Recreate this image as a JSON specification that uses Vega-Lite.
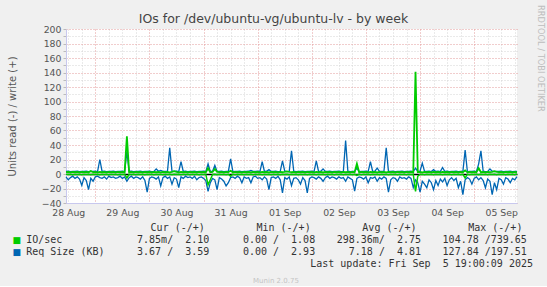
{
  "$schema": "https://vega.github.io/schema/vega-lite/v6.json",
  "background": "#f0f0f0",
  "padding": {"left": 7, "top": 5, "right": 2, "bottom": 2},
  "spacing": 4,
  "config": {"view": {"stroke": null}, "font": "DejaVu Sans"},
  "title": {"text": "Munin 2.0.75", "orient": "bottom", "anchor": "middle", "font": "DejaVu Sans", "fontSize": 7, "fontWeight": "normal", "color": "#c4c4c4", "offset": 8},
  "datasets": {
    "ts": [
      {"t":"2025-08-28T11:00","gr":-0.4,"gw":2.5,"br":-4,"bw":3.5},
      {"t":"2025-08-28T12:00","gr":-0.7,"gw":2.8,"br":-8,"bw":3.8},
      {"t":"2025-08-28T13:00","gr":-0.3,"gw":2.3,"br":-5,"bw":3.3},
      {"t":"2025-08-28T14:00","gr":-0.9,"gw":2.9,"br":-3,"bw":3.6},
      {"t":"2025-08-28T15:00","gr":-0.4,"gw":2.5,"br":-6,"bw":3.5},
      {"t":"2025-08-28T16:00","gr":-0.7,"gw":2.8,"br":-4,"bw":3.8},
      {"t":"2025-08-28T17:00","gr":-0.3,"gw":2.3,"br":-7,"bw":3.3},
      {"t":"2025-08-28T18:00","gr":-0.9,"gw":2.9,"br":-15.6,"bw":3.6},
      {"t":"2025-08-28T19:00","gr":-0.4,"gw":2.5,"br":-5,"bw":3.5},
      {"t":"2025-08-28T20:00","gr":-0.7,"gw":2.8,"br":-9,"bw":3.8},
      {"t":"2025-08-28T21:00","gr":-0.3,"gw":2.3,"br":-21.6,"bw":3.3},
      {"t":"2025-08-28T22:00","gr":-0.9,"gw":4,"br":-6,"bw":3.6},
      {"t":"2025-08-28T23:00","gr":-0.4,"gw":2.5,"br":-10,"bw":3.5},
      {"t":"2025-08-29T00:00","gr":-0.7,"gw":2.8,"br":-4,"bw":3.8},
      {"t":"2025-08-29T01:00","gr":-0.3,"gw":2.3,"br":-3,"bw":3.3},
      {"t":"2025-08-29T02:00","gr":-0.9,"gw":2.9,"br":-5,"bw":20},
      {"t":"2025-08-29T03:00","gr":-0.4,"gw":2.5,"br":-6,"bw":3.5},
      {"t":"2025-08-29T04:00","gr":-0.7,"gw":2.8,"br":-4,"bw":3.8},
      {"t":"2025-08-29T05:00","gr":-0.3,"gw":2.3,"br":-7,"bw":3.3},
      {"t":"2025-08-29T06:00","gr":-0.9,"gw":2.9,"br":-3,"bw":3.6},
      {"t":"2025-08-29T07:00","gr":-0.4,"gw":2.5,"br":-5,"bw":3.5},
      {"t":"2025-08-29T08:00","gr":-0.7,"gw":2.8,"br":-4,"bw":3.8},
      {"t":"2025-08-29T09:00","gr":-0.3,"gw":2.3,"br":-6,"bw":3.3},
      {"t":"2025-08-29T10:00","gr":-0.9,"gw":2.9,"br":-5,"bw":3.6},
      {"t":"2025-08-29T11:00","gr":-0.4,"gw":2.5,"br":-3,"bw":3.5},
      {"t":"2025-08-29T12:00","gr":-0.7,"gw":2.8,"br":-6,"bw":3.8},
      {"t":"2025-08-29T13:00","gr":-0.3,"gw":2.3,"br":-4,"bw":3.3},
      {"t":"2025-08-29T14:00","gr":-5.5,"gw":52,"br":-10,"bw":31},
      {"t":"2025-08-29T15:00","gr":-0.4,"gw":2.5,"br":-5,"bw":3.5},
      {"t":"2025-08-29T16:00","gr":-0.7,"gw":2.8,"br":-3,"bw":3.8},
      {"t":"2025-08-29T17:00","gr":-0.3,"gw":2.3,"br":-6,"bw":3.3},
      {"t":"2025-08-29T18:00","gr":-0.9,"gw":2.9,"br":-4,"bw":3.6},
      {"t":"2025-08-29T19:00","gr":-0.4,"gw":2.5,"br":-5,"bw":3.5},
      {"t":"2025-08-29T20:00","gr":-0.7,"gw":2.8,"br":-7,"bw":3.8},
      {"t":"2025-08-29T21:00","gr":-0.3,"gw":2.3,"br":-4,"bw":3.3},
      {"t":"2025-08-29T22:00","gr":-0.9,"gw":2.9,"br":-9,"bw":3.6},
      {"t":"2025-08-29T23:00","gr":-0.4,"gw":2.5,"br":-25,"bw":3.5},
      {"t":"2025-08-30T00:00","gr":-0.7,"gw":2.8,"br":-6,"bw":3.8},
      {"t":"2025-08-30T01:00","gr":-0.3,"gw":2.3,"br":-4,"bw":3.3},
      {"t":"2025-08-30T02:00","gr":-0.9,"gw":2.9,"br":-5,"bw":3.6},
      {"t":"2025-08-30T03:00","gr":-0.4,"gw":2.5,"br":-7,"bw":7},
      {"t":"2025-08-30T04:00","gr":-0.7,"gw":2.8,"br":-4,"bw":3.8},
      {"t":"2025-08-30T05:00","gr":-0.3,"gw":2.3,"br":-16.5,"bw":5},
      {"t":"2025-08-30T06:00","gr":-0.9,"gw":2.9,"br":-5,"bw":3.6},
      {"t":"2025-08-30T07:00","gr":-0.4,"gw":2.5,"br":-3,"bw":3.5},
      {"t":"2025-08-30T08:00","gr":-0.7,"gw":2.8,"br":-6,"bw":3.8},
      {"t":"2025-08-30T09:00","gr":-0.3,"gw":2.3,"br":-4,"bw":36},
      {"t":"2025-08-30T10:00","gr":-0.9,"gw":2.9,"br":-14,"bw":3.6},
      {"t":"2025-08-30T11:00","gr":-0.4,"gw":3.8,"br":-5,"bw":3.5},
      {"t":"2025-08-30T12:00","gr":-0.7,"gw":2.8,"br":-7,"bw":3.8},
      {"t":"2025-08-30T13:00","gr":-0.3,"gw":2.3,"br":-18.7,"bw":3.3},
      {"t":"2025-08-30T14:00","gr":-0.9,"gw":2.9,"br":-4,"bw":17},
      {"t":"2025-08-30T15:00","gr":-0.4,"gw":2.5,"br":-6,"bw":3.5},
      {"t":"2025-08-30T16:00","gr":-0.7,"gw":2.8,"br":-3,"bw":3.8},
      {"t":"2025-08-30T17:00","gr":-0.3,"gw":2.3,"br":-5,"bw":3.3},
      {"t":"2025-08-30T18:00","gr":-0.9,"gw":2.9,"br":-4,"bw":3.6},
      {"t":"2025-08-30T19:00","gr":-0.4,"gw":2.5,"br":-6,"bw":3.5},
      {"t":"2025-08-30T20:00","gr":-0.7,"gw":2.8,"br":-3,"bw":3.8},
      {"t":"2025-08-30T21:00","gr":-0.3,"gw":2.3,"br":-8,"bw":3.3},
      {"t":"2025-08-30T22:00","gr":-0.9,"gw":2.9,"br":-5,"bw":3.6},
      {"t":"2025-08-30T23:00","gr":-0.4,"gw":2.5,"br":-4,"bw":3.5},
      {"t":"2025-08-31T00:00","gr":-0.7,"gw":2.8,"br":-6,"bw":3.8},
      {"t":"2025-08-31T01:00","gr":-0.3,"gw":2.3,"br":-9,"bw":3.3},
      {"t":"2025-08-31T02:00","gr":-15,"gw":8,"br":-24,"bw":14},
      {"t":"2025-08-31T03:00","gr":-8,"gw":2.5,"br":-12,"bw":3.5},
      {"t":"2025-08-31T04:00","gr":-0.7,"gw":2.8,"br":-6,"bw":3.8},
      {"t":"2025-08-31T05:00","gr":-0.3,"gw":7,"br":-8,"bw":12},
      {"t":"2025-08-31T06:00","gr":-0.9,"gw":2.9,"br":-21.6,"bw":3.6},
      {"t":"2025-08-31T07:00","gr":-0.4,"gw":2.5,"br":-5,"bw":3.5},
      {"t":"2025-08-31T08:00","gr":-0.7,"gw":2.8,"br":-7,"bw":3.8},
      {"t":"2025-08-31T09:00","gr":-0.3,"gw":2.3,"br":-10,"bw":3.3},
      {"t":"2025-08-31T10:00","gr":-0.9,"gw":2.9,"br":-16.5,"bw":3.6},
      {"t":"2025-08-31T11:00","gr":-0.4,"gw":2.5,"br":-12,"bw":3.5},
      {"t":"2025-08-31T12:00","gr":-3,"gw":4.5,"br":-5,"bw":21},
      {"t":"2025-08-31T13:00","gr":-0.3,"gw":2.3,"br":-4,"bw":3.3},
      {"t":"2025-08-31T14:00","gr":-0.9,"gw":2.9,"br":-6,"bw":3.6},
      {"t":"2025-08-31T15:00","gr":-0.4,"gw":2.5,"br":-3,"bw":3.5},
      {"t":"2025-08-31T16:00","gr":-0.7,"gw":2.8,"br":-5,"bw":3.8},
      {"t":"2025-08-31T17:00","gr":-0.3,"gw":2.3,"br":-12,"bw":3.3},
      {"t":"2025-08-31T18:00","gr":-0.9,"gw":2.9,"br":-4,"bw":3.6},
      {"t":"2025-08-31T19:00","gr":-0.4,"gw":2.5,"br":-6,"bw":3.5},
      {"t":"2025-08-31T20:00","gr":-0.7,"gw":2.8,"br":-5,"bw":3.8},
      {"t":"2025-08-31T21:00","gr":-0.3,"gw":2.3,"br":-12,"bw":5},
      {"t":"2025-08-31T22:00","gr":-0.9,"gw":2.9,"br":-4,"bw":3.6},
      {"t":"2025-08-31T23:00","gr":-0.4,"gw":2.5,"br":-3,"bw":3.5},
      {"t":"2025-09-01T00:00","gr":-0.7,"gw":2.8,"br":-6,"bw":3.8},
      {"t":"2025-09-01T01:00","gr":-0.3,"gw":2.3,"br":-5,"bw":3.3},
      {"t":"2025-09-01T02:00","gr":-0.9,"gw":2.9,"br":-8,"bw":17},
      {"t":"2025-09-01T03:00","gr":-0.4,"gw":2.5,"br":-4,"bw":3.5},
      {"t":"2025-09-01T04:00","gr":-0.7,"gw":2.8,"br":-7,"bw":3.8},
      {"t":"2025-09-01T05:00","gr":-0.3,"gw":2.3,"br":-21.6,"bw":6},
      {"t":"2025-09-01T06:00","gr":-0.9,"gw":2.9,"br":-5,"bw":3.6},
      {"t":"2025-09-01T07:00","gr":-0.4,"gw":2.5,"br":-4,"bw":3.5},
      {"t":"2025-09-01T08:00","gr":-0.7,"gw":2.8,"br":-6,"bw":3.8},
      {"t":"2025-09-01T09:00","gr":-0.3,"gw":2.3,"br":-3,"bw":3.3},
      {"t":"2025-09-01T10:00","gr":-0.9,"gw":2.9,"br":-8,"bw":3.6},
      {"t":"2025-09-01T11:00","gr":-0.4,"gw":2.5,"br":-26,"bw":18},
      {"t":"2025-09-01T12:00","gr":-0.7,"gw":2.8,"br":-5,"bw":3.8},
      {"t":"2025-09-01T13:00","gr":-0.3,"gw":3.6,"br":-7,"bw":3.3},
      {"t":"2025-09-01T14:00","gr":-0.9,"gw":2.9,"br":-4,"bw":3.6},
      {"t":"2025-09-01T15:00","gr":-0.4,"gw":2.5,"br":-16,"bw":32},
      {"t":"2025-09-01T16:00","gr":-0.7,"gw":2.8,"br":-6,"bw":3.8},
      {"t":"2025-09-01T17:00","gr":-0.3,"gw":2.3,"br":-5,"bw":3.3},
      {"t":"2025-09-01T18:00","gr":-0.9,"gw":2.9,"br":-8,"bw":3.6},
      {"t":"2025-09-01T19:00","gr":-0.4,"gw":2.5,"br":-14,"bw":3.5},
      {"t":"2025-09-01T20:00","gr":-0.7,"gw":2.8,"br":-5,"bw":3.8},
      {"t":"2025-09-01T21:00","gr":-0.3,"gw":2.3,"br":-9,"bw":3.3},
      {"t":"2025-09-01T22:00","gr":-0.9,"gw":2.9,"br":-26,"bw":3.6},
      {"t":"2025-09-01T23:00","gr":-0.4,"gw":2.5,"br":-6,"bw":3.5},
      {"t":"2025-09-02T00:00","gr":-0.7,"gw":2.8,"br":-4,"bw":3.8},
      {"t":"2025-09-02T01:00","gr":-0.3,"gw":2.3,"br":-5,"bw":3.3},
      {"t":"2025-09-02T02:00","gr":-0.9,"gw":2.9,"br":-7,"bw":18},
      {"t":"2025-09-02T03:00","gr":-0.4,"gw":2.5,"br":-4,"bw":3.5},
      {"t":"2025-09-02T04:00","gr":-0.7,"gw":2.8,"br":-6,"bw":3.8},
      {"t":"2025-09-02T05:00","gr":-0.3,"gw":2.3,"br":-10,"bw":7},
      {"t":"2025-09-02T06:00","gr":-0.9,"gw":2.9,"br":-5,"bw":3.6},
      {"t":"2025-09-02T07:00","gr":-0.4,"gw":2.5,"br":-3,"bw":3.5},
      {"t":"2025-09-02T08:00","gr":-0.7,"gw":2.8,"br":-6,"bw":3.8},
      {"t":"2025-09-02T09:00","gr":-0.3,"gw":2.3,"br":-4,"bw":3.3},
      {"t":"2025-09-02T10:00","gr":-0.9,"gw":2.9,"br":-5,"bw":3.6},
      {"t":"2025-09-02T11:00","gr":-0.4,"gw":2.5,"br":-7,"bw":3.5},
      {"t":"2025-09-02T12:00","gr":-0.7,"gw":2.8,"br":-4,"bw":3.8},
      {"t":"2025-09-02T13:00","gr":-0.3,"gw":2.3,"br":-6,"bw":3.3},
      {"t":"2025-09-02T14:00","gr":-0.9,"gw":2.9,"br":-5,"bw":3.6},
      {"t":"2025-09-02T15:00","gr":-0.4,"gw":2.5,"br":-10,"bw":46},
      {"t":"2025-09-02T16:00","gr":-0.7,"gw":2.8,"br":-4,"bw":3.8},
      {"t":"2025-09-02T17:00","gr":-0.3,"gw":2.3,"br":-6,"bw":3.3},
      {"t":"2025-09-02T18:00","gr":-0.9,"gw":2.9,"br":-8,"bw":3.6},
      {"t":"2025-09-02T19:00","gr":-0.4,"gw":2.5,"br":-23.6,"bw":3.5},
      {"t":"2025-09-02T20:00","gr":-2,"gw":14,"br":-6,"bw":8},
      {"t":"2025-09-02T21:00","gr":-0.3,"gw":2.3,"br":-4,"bw":3.3},
      {"t":"2025-09-02T22:00","gr":-0.9,"gw":2.9,"br":-5,"bw":3.6},
      {"t":"2025-09-02T23:00","gr":-0.4,"gw":2.5,"br":-7,"bw":3.5},
      {"t":"2025-09-03T00:00","gr":-0.7,"gw":2.8,"br":-4,"bw":3.8},
      {"t":"2025-09-03T01:00","gr":-0.3,"gw":2.3,"br":-12,"bw":3.3},
      {"t":"2025-09-03T02:00","gr":-0.9,"gw":2.9,"br":-5,"bw":17},
      {"t":"2025-09-03T03:00","gr":-0.4,"gw":2.5,"br":-6,"bw":3.5},
      {"t":"2025-09-03T04:00","gr":-0.7,"gw":2.8,"br":-4,"bw":3.8},
      {"t":"2025-09-03T05:00","gr":-0.3,"gw":2.3,"br":-10,"bw":8},
      {"t":"2025-09-03T06:00","gr":-0.9,"gw":2.9,"br":-5,"bw":3.6},
      {"t":"2025-09-03T07:00","gr":-0.4,"gw":2.5,"br":-7,"bw":3.5},
      {"t":"2025-09-03T08:00","gr":-0.7,"gw":2.8,"br":-4,"bw":3.8},
      {"t":"2025-09-03T09:00","gr":-0.3,"gw":2.3,"br":-6,"bw":36},
      {"t":"2025-09-03T10:00","gr":-0.9,"gw":2.9,"br":-25,"bw":3.6},
      {"t":"2025-09-03T11:00","gr":-0.4,"gw":2.5,"br":-8,"bw":3.5},
      {"t":"2025-09-03T12:00","gr":-0.7,"gw":2.8,"br":-5,"bw":3.8},
      {"t":"2025-09-03T13:00","gr":-0.3,"gw":2.3,"br":-6,"bw":3.3},
      {"t":"2025-09-03T14:00","gr":-0.9,"gw":2.9,"br":-10,"bw":3.6},
      {"t":"2025-09-03T15:00","gr":-0.4,"gw":2.5,"br":-4,"bw":3.5},
      {"t":"2025-09-03T16:00","gr":-0.7,"gw":2.8,"br":-6,"bw":3.8},
      {"t":"2025-09-03T17:00","gr":-0.3,"gw":2.3,"br":-5,"bw":3.3},
      {"t":"2025-09-03T18:00","gr":-0.9,"gw":2.9,"br":-7,"bw":3.6},
      {"t":"2025-09-03T19:00","gr":-0.4,"gw":2.5,"br":-4,"bw":3.5},
      {"t":"2025-09-03T20:00","gr":-0.7,"gw":2.8,"br":-6,"bw":3.8},
      {"t":"2025-09-03T21:00","gr":-0.3,"gw":2.3,"br":-18.7,"bw":3.3},
      {"t":"2025-09-03T22:00","gr":-24,"gw":141,"br":-8,"bw":8},
      {"t":"2025-09-03T23:00","gr":-3,"gw":2.5,"br":-12,"bw":3.5},
      {"t":"2025-09-04T00:00","gr":-0.7,"gw":2.8,"br":-25,"bw":3.8},
      {"t":"2025-09-04T01:00","gr":-0.3,"gw":2.3,"br":-10,"bw":15},
      {"t":"2025-09-04T02:00","gr":-0.9,"gw":2.9,"br":-14,"bw":3.6},
      {"t":"2025-09-04T03:00","gr":-0.4,"gw":2.5,"br":-19,"bw":3.5},
      {"t":"2025-09-04T04:00","gr":-0.7,"gw":2.8,"br":-8,"bw":3.8},
      {"t":"2025-09-04T05:00","gr":-0.3,"gw":2.3,"br":-12,"bw":3.3},
      {"t":"2025-09-04T06:00","gr":-0.9,"gw":2.9,"br":-21.6,"bw":6},
      {"t":"2025-09-04T07:00","gr":-0.4,"gw":2.5,"br":-9,"bw":3.5},
      {"t":"2025-09-04T08:00","gr":-0.7,"gw":2.8,"br":-16,"bw":3.8},
      {"t":"2025-09-04T09:00","gr":-0.3,"gw":2.3,"br":-7,"bw":3.3},
      {"t":"2025-09-04T10:00","gr":-0.9,"gw":2.9,"br":-11,"bw":9},
      {"t":"2025-09-04T11:00","gr":-0.4,"gw":2.5,"br":-6,"bw":3.5},
      {"t":"2025-09-04T12:00","gr":-0.7,"gw":2.8,"br":-16,"bw":3.8},
      {"t":"2025-09-04T13:00","gr":-0.3,"gw":2.3,"br":-8,"bw":3.3},
      {"t":"2025-09-04T14:00","gr":-0.9,"gw":2.9,"br":-5,"bw":3.6},
      {"t":"2025-09-04T15:00","gr":-0.4,"gw":2.5,"br":-9,"bw":3.5},
      {"t":"2025-09-04T16:00","gr":-0.7,"gw":2.8,"br":-6,"bw":3.8},
      {"t":"2025-09-04T17:00","gr":-0.3,"gw":2.3,"br":-19,"bw":3.3},
      {"t":"2025-09-04T18:00","gr":-0.9,"gw":2.9,"br":-10,"bw":3.6},
      {"t":"2025-09-04T19:00","gr":-0.4,"gw":2.5,"br":-28.5,"bw":3.5},
      {"t":"2025-09-04T20:00","gr":-5.5,"gw":5,"br":-8,"bw":33},
      {"t":"2025-09-04T21:00","gr":-0.3,"gw":2.3,"br":-5,"bw":3.3},
      {"t":"2025-09-04T22:00","gr":-0.9,"gw":2.9,"br":-7,"bw":3.6},
      {"t":"2025-09-04T23:00","gr":-0.4,"gw":2.5,"br":-14,"bw":3.5},
      {"t":"2025-09-05T00:00","gr":-0.7,"gw":2.8,"br":-6,"bw":3.8},
      {"t":"2025-09-05T01:00","gr":-0.3,"gw":2.3,"br":-4,"bw":3.3},
      {"t":"2025-09-05T02:00","gr":-0.9,"gw":8,"br":-8,"bw":14},
      {"t":"2025-09-05T03:00","gr":-0.4,"gw":2.5,"br":-5,"bw":32},
      {"t":"2025-09-05T04:00","gr":-0.7,"gw":2.8,"br":-9,"bw":3.8},
      {"t":"2025-09-05T05:00","gr":-0.3,"gw":2.3,"br":-19,"bw":3.3},
      {"t":"2025-09-05T06:00","gr":-0.9,"gw":2.9,"br":-7,"bw":3.6},
      {"t":"2025-09-05T07:00","gr":-0.4,"gw":2.5,"br":-10,"bw":7},
      {"t":"2025-09-05T08:00","gr":-0.7,"gw":2.8,"br":-28.5,"bw":3.8},
      {"t":"2025-09-05T09:00","gr":-0.3,"gw":3.8,"br":-12,"bw":3.3},
      {"t":"2025-09-05T10:00","gr":-0.9,"gw":2.9,"br":-21.6,"bw":3.6},
      {"t":"2025-09-05T11:00","gr":-0.4,"gw":2.5,"br":-6,"bw":3.5},
      {"t":"2025-09-05T12:00","gr":-0.7,"gw":2.8,"br":-8,"bw":3.8},
      {"t":"2025-09-05T13:00","gr":-0.3,"gw":2.3,"br":-14,"bw":3.3},
      {"t":"2025-09-05T14:00","gr":-0.9,"gw":2.9,"br":-5,"bw":3.6},
      {"t":"2025-09-05T15:00","gr":-0.4,"gw":2.5,"br":-7,"bw":3.5},
      {"t":"2025-09-05T16:00","gr":-0.7,"gw":2.8,"br":-12,"bw":3.8},
      {"t":"2025-09-05T17:00","gr":-0.3,"gw":2.3,"br":-6,"bw":3.3},
      {"t":"2025-09-05T18:00","gr":-0.9,"gw":2.9,"br":-8,"bw":3.6},
      {"t":"2025-09-05T19:00","gr":-0.008,"gw":2.1,"br":-3.67,"bw":3.59}
    ],
    "legtab": [
      {"row":"h","col":"cur","txt":"Cur (-/+)"},
      {"row":"h","col":"min","txt":"Min (-/+)"},
      {"row":"h","col":"avg","txt":"Avg (-/+)"},
      {"row":"h","col":"max","txt":"Max (-/+)"},
      {"row":"io","col":"label","txt":"IO/sec","series":"IO/sec"},
      {"row":"io","col":"cur","txt":"7.85m/\u00a0\u00a02.10"},
      {"row":"io","col":"min","txt":"0.00\u00a0/\u00a0\u00a01.08"},
      {"row":"io","col":"avg","txt":"298.36m/\u00a0\u00a02.75"},
      {"row":"io","col":"max","txt":"104.78\u00a0/739.65"},
      {"row":"req","col":"label","txt":"Req Size (KB)","series":"Req Size (KB)"},
      {"row":"req","col":"cur","txt":"3.67\u00a0/\u00a0\u00a03.59"},
      {"row":"req","col":"min","txt":"0.00\u00a0/\u00a0\u00a02.93"},
      {"row":"req","col":"avg","txt":"7.18\u00a0/\u00a0\u00a04.81"},
      {"row":"req","col":"max","txt":"127.84\u00a0/197.51"}
    ]
  },
  "vconcat": [
    {
      "width": 451,
      "height": 174,
      "view": {"fill": "#ffffff", "stroke": null},
      "title": {"text": "RRDTOOL / TOBI OETIKER", "orient": "right", "anchor": "start", "font": "DejaVu Sans", "fontSize": 8.3, "fontWeight": "normal", "color": "#bdbdbd", "offset": 16, "dx": -7},
      "data": {"name": "ts"},
      "encoding": {
        "x": {"field": "t", "type": "temporal",
          "scale": {"domain": [{"year": 2025, "month": "Aug", "date": 28, "hours": 11}, {"year": 2025, "month": "Sep", "date": 5, "hours": 19}]},
          "axis": {
            "orient": "bottom",
            "tickCount": 200,
            "values": [
              {"year":2025,"month":"Aug","date":28,"hours":12},{"year":2025,"month":"Aug","date":28,"hours":18},
              {"year":2025,"month":"Aug","date":29,"hours":0},{"year":2025,"month":"Aug","date":29,"hours":6},{"year":2025,"month":"Aug","date":29,"hours":12},{"year":2025,"month":"Aug","date":29,"hours":18},
              {"year":2025,"month":"Aug","date":30,"hours":0},{"year":2025,"month":"Aug","date":30,"hours":6},{"year":2025,"month":"Aug","date":30,"hours":12},{"year":2025,"month":"Aug","date":30,"hours":18},
              {"year":2025,"month":"Aug","date":31,"hours":0},{"year":2025,"month":"Aug","date":31,"hours":6},{"year":2025,"month":"Aug","date":31,"hours":12},{"year":2025,"month":"Aug","date":31,"hours":18},
              {"year":2025,"month":"Sep","date":1,"hours":0},{"year":2025,"month":"Sep","date":1,"hours":6},{"year":2025,"month":"Sep","date":1,"hours":12},{"year":2025,"month":"Sep","date":1,"hours":18},
              {"year":2025,"month":"Sep","date":2,"hours":0},{"year":2025,"month":"Sep","date":2,"hours":6},{"year":2025,"month":"Sep","date":2,"hours":12},{"year":2025,"month":"Sep","date":2,"hours":18},
              {"year":2025,"month":"Sep","date":3,"hours":0},{"year":2025,"month":"Sep","date":3,"hours":6},{"year":2025,"month":"Sep","date":3,"hours":12},{"year":2025,"month":"Sep","date":3,"hours":18},
              {"year":2025,"month":"Sep","date":4,"hours":0},{"year":2025,"month":"Sep","date":4,"hours":6},{"year":2025,"month":"Sep","date":4,"hours":12},{"year":2025,"month":"Sep","date":4,"hours":18},
              {"year":2025,"month":"Sep","date":5,"hours":0},{"year":2025,"month":"Sep","date":5,"hours":6},{"year":2025,"month":"Sep","date":5,"hours":12},{"year":2025,"month":"Sep","date":5,"hours":18}
            ],
            "grid": true,
            "gridColor": {"condition": {"test": "hours(datum.value) === 0", "value": "#e39a9a"}, "value": "#d4d4d4"},
            "gridDash": [1, 2],
            "ticks": false,
            "domain": true, "domainColor": "#c8c8ee",
            "labelExpr": "hours(datum.value) === 12 ? timeFormat(datum.value, '%d %b') : ''",
            "labelOverlap": false, "labelFlush": false, "labelPadding": 5,
            "labelFont": "DejaVu Sans", "labelFontSize": 9.33, "labelColor": "#555555",
            "title": "IOs for /dev/ubuntu-vg/ubuntu-lv - by week",
            "titleFont": "DejaVu Sans", "titleFontSize": 12.5, "titleFontWeight": "normal", "titleColor": "#444444",
            "titleX": 207, "titleY": -185, "titleAlign": "center", "titleBaseline": "middle"
          }
        }
      },
      "layer": [
        {
          "mark": {"type": "line", "color": "#0066b3", "strokeWidth": 1.3},
          "encoding": {
            "y": {"field": "br", "type": "quantitative",
              "scale": {"domain": [-40, 200], "nice": false, "zero": false},
              "axis": {
                "orient": "left",
                "tickCount": 200,
                "values": [-40, -30, -20, -10, 0, 10, 20, 30, 40, 50, 60, 70, 80, 90, 100, 110, 120, 130, 140, 150, 160, 170, 180, 190, 200],
                "grid": true,
                "gridColor": {"condition": [{"test": "datum.value === 0", "value": "#000000"}, {"test": "datum.value % 20 === 0", "value": "#e39a9a"}], "value": "#d4d4d4"},
                "gridDash": {"condition": {"test": "datum.value === 0", "value": []}, "value": [1, 2]},
                "gridWidth": {"condition": {"test": "datum.value === 0", "value": 1.5}, "value": 1},
                "domain": true, "domainColor": "#c8c8ee",
                "ticks": true, "tickSize": 3, "tickColor": "#bbbbbb",
                "labelExpr": "datum.value % 20 === 0 ? datum.label : ''",
                "labelFontSize": {"condition": {"test": "datum.value % 20 !== 0", "value": 0.01}, "value": 9.33},
                "labelPadding": 2, "labelOverlap": false,
                "labelFont": "DejaVu Sans", "labelColor": "#555555",
                "title": "Units read (-) / write (+)", "titleFont": "DejaVu Sans", "titleFontSize": 10, "titleFontWeight": "normal", "titleColor": "#555555",
                "titleX": -54, "titleY": 87, "titleAngle": -90, "titleAlign": "center", "titleBaseline": "middle"
              }
            }
          }
        },
        {
          "mark": {"type": "line", "color": "#0066b3", "strokeWidth": 1.3},
          "encoding": {"y": {"field": "bw", "type": "quantitative"}}
        },
        {
          "mark": {"type": "line", "color": "#00cc00", "strokeWidth": 1.5},
          "encoding": {"y": {"field": "gr", "type": "quantitative"}}
        },
        {
          "mark": {"type": "line", "color": "#00cc00", "strokeWidth": 1.8},
          "encoding": {"y": {"field": "gw", "type": "quantitative"}}
        }
      ]
    },
    {
      "width": 467,
      "height": 36,
      "view": {"stroke": null},
      "title": {"text": "Last update: Fri Sep\u00a0\u00a05 19:00:09 2025", "orient": "bottom", "anchor": "end", "frame": "group", "font": "DejaVu Sans Mono", "fontSize": 10, "fontWeight": "normal", "color": "#333333", "offset": 1},
      "data": {"name": "legtab"},
      "encoding": {
        "x": {"field": "col", "type": "ordinal", "scale": {"type": "point", "domain": ["label", "cur", "min", "avg", "max"], "range": [37.4, 460.9], "padding": 0}, "axis": null},
        "y": {"field": "row", "type": "ordinal", "scale": {"type": "point", "domain": ["h", "io", "req"], "padding": 0.5}, "axis": null}
      },
      "layer": [
        {
          "transform": [{"filter": "datum.col === 'label'"}],
          "mark": {"type": "text", "text": "■", "font": "DejaVu Sans", "fontSize": 9, "align": "center", "baseline": "middle", "dx": -86.6},
          "encoding": {"color": {"field": "series", "type": "nominal", "scale": {"domain": ["IO/sec", "Req Size (KB)"], "range": ["#00cc00", "#0066b3"]}, "legend": null}}
        },
        {
          "transform": [{"filter": "datum.col === 'label'"}],
          "mark": {"type": "text", "font": "DejaVu Sans Mono", "fontSize": 10, "align": "left", "baseline": "middle", "dx": -77.2, "color": "#333333"},
          "encoding": {"text": {"field": "txt"}}
        },
        {
          "transform": [{"filter": "datum.row === 'h'"}],
          "mark": {"type": "text", "font": "DejaVu Sans Mono", "fontSize": 10, "align": "right", "baseline": "middle", "dx": -4.5, "color": "#333333"},
          "encoding": {"text": {"field": "txt"}}
        },
        {
          "transform": [{"filter": "datum.row !== 'h' && datum.col !== 'label'"}],
          "mark": {"type": "text", "font": "DejaVu Sans Mono", "fontSize": 10, "align": "right", "baseline": "middle", "color": "#333333"},
          "encoding": {"text": {"field": "txt"}}
        }
      ]
    }
  ]
}
